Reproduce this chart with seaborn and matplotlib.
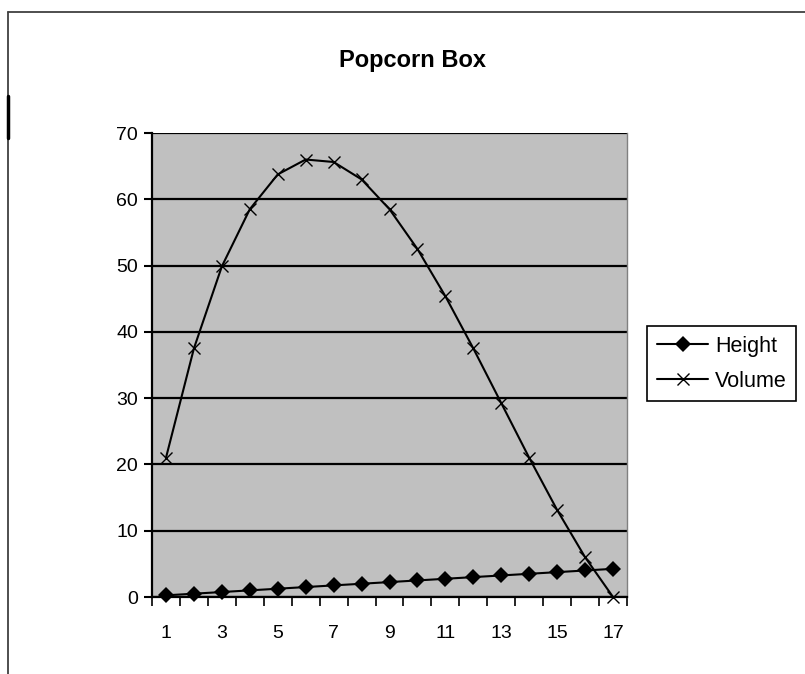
import matplotlib
matplotlib.use("Agg")
import matplotlib.pyplot as plt
from matplotlib.lines import Line2D
import seaborn as sns
import pandas as pd

# Popcorn box from an 8.5 x 11 sheet: corner cut height and resulting volume
categories = list(range(1, 18))
height = [0.25, 0.5, 0.75, 1.0, 1.25, 1.5, 1.75, 2.0, 2.25, 2.5,
          2.75, 3.0, 3.25, 3.5, 3.75, 4.0, 4.25]
volume = [21.0, 37.5, 49.875, 58.5, 63.75, 66.0, 65.625, 63.0, 58.5, 52.5,
          45.375, 37.5, 29.25, 21.0, 13.125, 6.0, 0.0]
x_labels = [str(c) for c in categories[::2]]
y_ticks = [0, 10, 20, 30, 40, 50, 60, 70]

df = pd.DataFrame({"Category": categories, "Height": height, "Volume": volume})

sns.set_style("white")
plt.rcParams["font.family"] = ["Liberation Sans", "DejaVu Sans"]
plt.rcParams["text.color"] = "black"
plt.rcParams["xtick.color"] = "black"
plt.rcParams["ytick.color"] = "black"

fig = plt.figure(figsize=(8.05, 6.74), dpi=100)
fig.patch.set_facecolor("white")
ax = fig.add_axes([152 / 805, 1 - 597 / 674, (627 - 152) / 805, (597 - 133) / 674])
ax.set_facecolor("#C0C0C0")

sns.lineplot(data=df, x="Category", y="Height", ax=ax, color="black",
             marker="D", markersize=8, markerfacecolor="black",
             markeredgecolor="black", markeredgewidth=0, linewidth=1.5,
             label="Height", clip_on=False, zorder=4)
sns.lineplot(data=df, x="Category", y="Volume", ax=ax, color="black",
             marker="x", markersize=9, markeredgecolor="black",
             markeredgewidth=1.0, linewidth=1.5,
             label="Volume", clip_on=False, zorder=4)

ax.set_xlim(0.5, 17.5)
ax.set_ylim(0, 70)
ax.set_xlabel("")
ax.set_ylabel("")

# category axis: labels on odd categories, tick marks between categories
ax.set_xticks(categories[::2])
ax.set_xticklabels(x_labels)
ax.set_xticks([c - 0.5 for c in categories] + [17.5], minor=True)
ax.tick_params(axis="x", which="major", length=0, pad=20, labelsize=14,
               labelcolor="black")
ax.tick_params(axis="x", which="minor", length=6.5, width=1.2, color="black",
               direction="out", bottom=True)

ax.set_yticks(y_ticks)
ax.tick_params(axis="y", which="major", length=6, width=1.5, color="black",
               direction="out", left=True, pad=4, labelsize=14,
               labelcolor="black")

ax.yaxis.grid(True, color="black", linewidth=1.6)
ax.xaxis.grid(False)
ax.set_axisbelow(True)

for side in ["left", "bottom"]:
    ax.spines[side].set_color("black")
    ax.spines[side].set_linewidth(1.6)
ax.spines["top"].set_visible(False)
ax.spines["right"].set_color("#808080")
ax.spines["right"].set_linewidth(1.0)

fig.text(412 / 805, 1 - 60 / 674, "Popcorn Box", ha="center", va="center",
         fontsize=17, fontweight="bold", color="black")

leg = ax.legend(loc="upper left", bbox_to_anchor=(647 / 805, 1 - 326 / 674),
                bbox_transform=fig.transFigure, frameon=True, fancybox=False,
                edgecolor="black", framealpha=1, fontsize=15.5,
                handlelength=2.4, handletextpad=0.3, borderpad=0.45,
                labelspacing=0.65, borderaxespad=0)
leg.get_frame().set_linewidth(1.2)
for txt in leg.get_texts():
    txt.set_color("black")

# outer chart frame, running off the right and bottom edges
fig.add_artist(Line2D([8 / 805, 1.0], [1 - 12 / 674, 1 - 12 / 674],
                      transform=fig.transFigure, color="#404040", linewidth=1.3))
fig.add_artist(Line2D([8 / 805, 8 / 805], [0.0, 1 - 12 / 674],
                      transform=fig.transFigure, color="#404040", linewidth=1.3))
fig.add_artist(Line2D([8 / 805, 8 / 805], [1 - 138 / 674, 1 - 96 / 674],
                      transform=fig.transFigure, color="black", linewidth=2.5))

fig.savefig("out.png", dpi=100)
